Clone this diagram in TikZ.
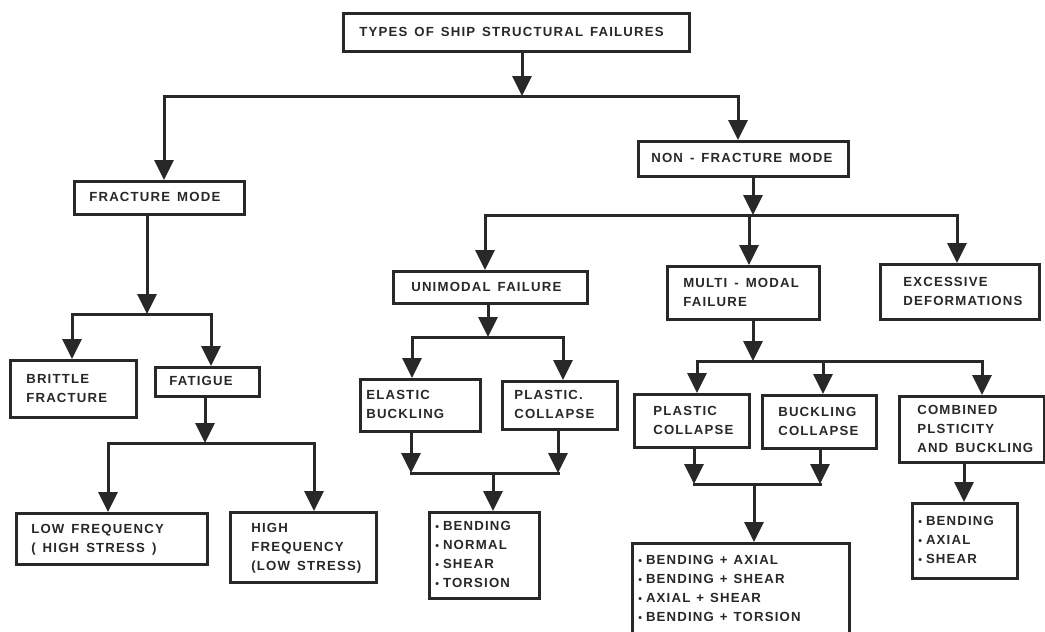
\documentclass[tikz,border=0pt]{standalone}
\usepackage{fontspec}
\setmainfont{Liberation Sans}[LetterSpace=9]
\usetikzlibrary{arrows.meta}
\definecolor{ink}{HTML}{282828}
\newcommand\myfnt{\fontsize{13.2}{19}\selectfont\bfseries\spaceskip=7pt plus 1pt\relax}
\newcommand\bul{\scalebox{0.8}{\textbullet}\hspace{4pt}}
\newcommand\pls{\hspace{6pt}+\hspace{6pt}}
\newlength\boxw
\newcommand\mybox[7]{%
  \pgfmathsetmacro\mytw{#4-#2}%
  \pgfmathsetmacro\myth{#5-#3}%
  \setlength\boxw{\mytw pt}%
  \node[box, anchor=north west, minimum width=\mytw pt, minimum height=\myth pt] (#1) at (#2,#3)
    {\hbox to \boxw{\hskip #6pt\begin{tabular}{@{}l@{}}#7\end{tabular}\hfil}};}
\tikzset{
  box/.style={draw=ink, line width=2.6pt, fill=white, inner sep=0pt,
    text=ink, font=\myfnt},
  ln/.style={draw=ink, line width=3pt},
  hln/.style={ln, line cap=rect},
  arr/.style={ln, -{Triangle[width=19pt,length=20pt]}, fill=ink}
}
\begin{document}
\begin{tikzpicture}[x=1pt,y=-1pt]
\useasboundingbox[fill=white] (0,0) rectangle (1045,632);
% boxes
\mybox{title}{342}{12}{688}{50}{16}{TYPES OF SHIP STRUCTURAL FAILURES}
\mybox{fm}{73}{180}{243}{213}{15}{FRACTURE MODE}
\mybox{nfm}{637}{140}{847}{175}{13}{NON - FRACTURE MODE}
\mybox{uni}{392}{270}{586}{302}{18}{UNIMODAL FAILURE}
\mybox{multi}{666}{265}{818}{318}{16}{MULTI - MODAL\\FAILURE}
\mybox{exc}{879}{263}{1038}{318}{23}{EXCESSIVE\\DEFORMATIONS}
\mybox{brittle}{9}{359}{135}{416}{16}{BRITTLE\\FRACTURE}
\mybox{fatigue}{154}{366}{258}{395}{14}{FATIGUE}
\mybox{lowf}{15}{512}{206}{563}{15}{LOW FREQUENCY\\( HIGH STRESS )}
\mybox{highf}{229}{511}{375}{581}{21}{HIGH\\FREQUENCY\\(LOW STRESS)}
\mybox{elastic}{359}{378}{479}{430}{6}{ELASTIC\\BUCKLING}
\mybox{plastA}{501}{380}{616}{428}{12}{PLASTIC.\\COLLAPSE}
\mybox{listA}{428}{511}{538}{597}{6}{\bul BENDING\\\bul NORMAL\\\bul SHEAR\\\bul TORSION}
\mybox{plastB}{633}{393}{748}{446}{19}{PLASTIC\\COLLAPSE}
\mybox{buck}{761}{394}{875}{447}{16}{BUCKLING\\COLLAPSE}
\mybox{comb}{898}{395}{1043}{461}{18}{COMBINED\\PLSTICITY\\AND BUCKLING}
\mybox{listB}{631}{542}{848}{634}{6}{\bul BENDING\pls AXIAL\\\bul BENDING\pls SHEAR\\\bul AXIAL\pls SHEAR\\\bul BENDING\pls TORSION}
\mybox{listC}{911}{502}{1016}{577}{6}{\bul BENDING\\\bul AXIAL\\\bul SHEAR}
% junction coordinates
\coordinate (j0) at (522,96);
\coordinate (j0l) at (164,96);
\coordinate (j0r) at (738,96);
\coordinate (j1) at (147,314);
\coordinate (j1l) at (72,314);
\coordinate (j1r) at (211,314);
\coordinate (j2) at (205,443);
\coordinate (j2l) at (108,443);
\coordinate (j2r) at (314,443);
\coordinate (j3) at (753,215);
\coordinate (j3l) at (485,215);
\coordinate (j3m) at (749,215);
\coordinate (j3r) at (957,215);
\coordinate (j4) at (488,337);
\coordinate (j4l) at (412,337);
\coordinate (j4r) at (563,337);
\coordinate (j5l) at (411,473);
\coordinate (j5r) at (558,473);
\coordinate (j5) at (493,473);
\coordinate (j6) at (753,361);
\coordinate (j6l) at (697,361);
\coordinate (j6m) at (823,361);
\coordinate (j6r) at (982,361);
\coordinate (j7l) at (694,484);
\coordinate (j7r) at (820,484);
\coordinate (j7) at (754,484);
\coordinate (j8) at (964,461);
% connectors
\draw[arr] (title.south -| j0) -- (j0);
\draw[hln] (j0l) -- (j0r);
\draw[arr] (j0l) -- (j0l |- fm.north);
\draw[arr] (j0r) -- (j0r |- nfm.north);

\draw[arr] (fm.south -| j1) -- (j1);
\draw[hln] (j1l) -- (j1r);
\draw[arr] (j1l) -- (j1l |- brittle.north);
\draw[arr] (j1r) -- (j1r |- fatigue.north);

\draw[arr] (fatigue.south -| j2) -- (j2);
\draw[hln] (j2l) -- (j2r);
\draw[arr] (j2l) -- (j2l |- lowf.north);
\draw[arr] (j2r) -- (j2r |- highf.north);

\draw[arr] (nfm.south -| j3) -- (j3);
\draw[hln] (j3l) -- (j3r);
\draw[arr] (j3l) -- (j3l |- uni.north);
\draw[arr] (j3m) -- (j3m |- multi.north);
\draw[arr] (j3r) -- (j3r |- exc.north);

\draw[arr] (uni.south -| j4) -- (j4);
\draw[hln] (j4l) -- (j4r);
\draw[arr] (j4l) -- (j4l |- elastic.north);
\draw[arr] (j4r) -- (j4r |- plastA.north);

\draw[arr] (elastic.south -| j5l) -- (j5l);
\draw[arr] (plastA.south -| j5r) -- (j5r);
\draw[hln] (j5l) -- (j5r);
\draw[arr] (j5) -- (j5 |- listA.north);

\draw[arr] (multi.south -| j6) -- (j6);
\draw[hln] (j6l) -- (j6r);
\draw[arr] (j6l) -- (j6l |- plastB.north);
\draw[arr] (j6m) -- (j6m |- buck.north);
\draw[arr] (j6r) -- (j6r |- comb.north);

\draw[arr] (plastB.south -| j7l) -- (j7l);
\draw[arr] (buck.south -| j7r) -- (j7r);
\draw[hln] (j7l) -- (j7r);
\draw[arr] (j7) -- (j7 |- listB.north);

\draw[arr] (comb.south -| j8) -- (j8 |- listC.north);
\end{tikzpicture}
\end{document}
